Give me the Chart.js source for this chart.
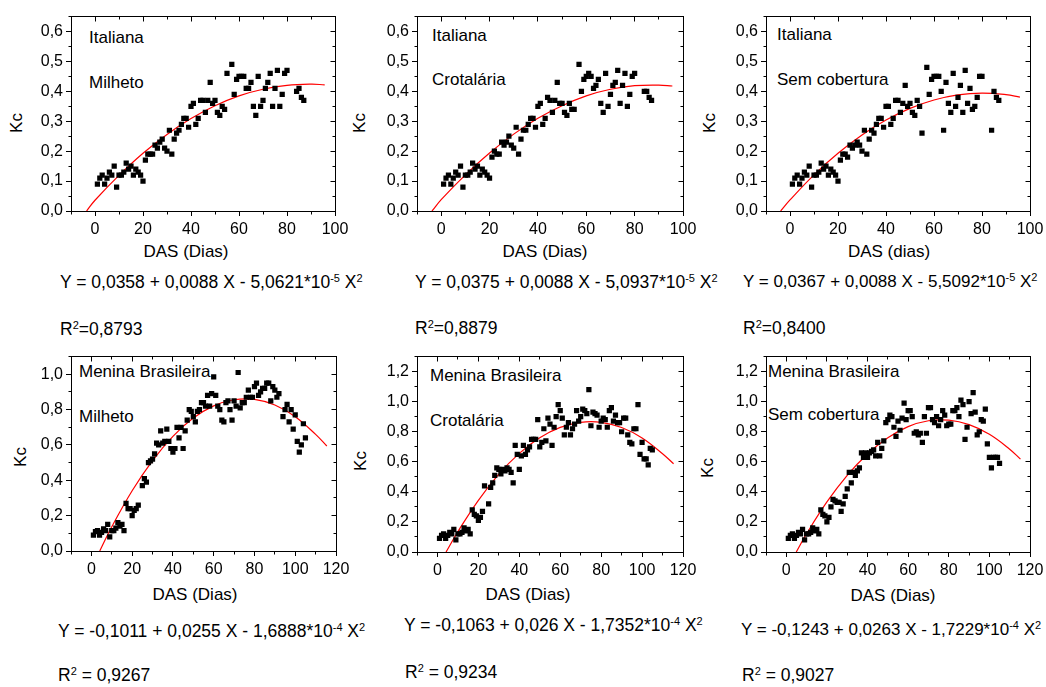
<!DOCTYPE html>
<html>
<head>
<meta charset="utf-8">
<script src="https://cdn.jsdelivr.net/npm/chart.js@4.4.0/dist/chart.umd.min.js"></script>
<style>
body { margin: 0; background: #fff; }
#fig { position: relative; width: 1046px; height: 687px; overflow: hidden; font-family: Arial, "Liberation Sans", sans-serif; color: #000; }
#fig canvas { position: absolute; }
.t { position: absolute; font-size: 17px; line-height: 20px; white-space: nowrap; }
.eq { font-size: 17.5px; }
.eq.n { font-size: 17px; }
.c { transform: translate(-50%, -50%); }
.r { transform: translate(-50%, -50%) rotate(-90deg); }
sup { font-size: 11px; vertical-align: 6px; line-height: 0; }
</style>
</head>
<body>
<div id="fig">
  <!-- top row: Italiana -->
  <div class="t r" style="left:17px;top:123px">Kc</div>
  <div class="t r" style="left:360px;top:123px">Kc</div>
  <div class="t r" style="left:710px;top:123px">Kc</div>
  <div class="t c" style="left:186px;top:252px">DAS (Dias)</div>
  <div class="t c" style="left:545px;top:252px">DAS (Dias)</div>
  <div class="t c" style="left:889px;top:252px">DAS (dias)</div>
  <div class="t" style="left:89px;top:28px">Italiana</div>
  <div class="t" style="left:89px;top:73px">Milheto</div>
  <div class="t" style="left:432px;top:26px">Italiana</div>
  <div class="t" style="left:432px;top:70px">Crotalária</div>
  <div class="t" style="left:777px;top:25px">Italiana</div>
  <div class="t" style="left:777px;top:70px">Sem cobertura</div>
  <div class="t eq" style="left:60px;top:272px">Y = 0,0358 + 0,0088 X - 5,0621*10<sup>-5</sup> X<sup>2</sup></div>
  <div class="t eq" style="left:415px;top:272px">Y = 0,0375 + 0,0088 X - 5,0937*10<sup>-5</sup> X<sup>2</sup></div>
  <div class="t eq n" style="left:743px;top:272px">Y = 0,0367 + 0,0088 X - 5,5092*10<sup>-5</sup> X<sup>2</sup></div>
  <div class="t eq" style="left:60px;top:319px">R<sup>2</sup>=0,8793</div>
  <div class="t eq" style="left:415px;top:318px">R<sup>2</sup>=0,8879</div>
  <div class="t eq" style="left:743px;top:318px">R<sup>2</sup>=0,8400</div>

  <!-- bottom row: Menina Brasileira -->
  <div class="t r" style="left:21px;top:457px">Kc</div>
  <div class="t r" style="left:361px;top:461px">Kc</div>
  <div class="t r" style="left:708px;top:468px">Kc</div>
  <div class="t c" style="left:195px;top:595px">DAS (Dias)</div>
  <div class="t c" style="left:528px;top:595px">DAS (Dias)</div>
  <div class="t c" style="left:893px;top:596px">DAS (Dias)</div>
  <div class="t" style="left:79px;top:362px">Menina Brasileira</div>
  <div class="t" style="left:79px;top:407px">Milheto</div>
  <div class="t" style="left:430px;top:366px">Menina Brasileira</div>
  <div class="t" style="left:430px;top:411px">Crotalária</div>
  <div class="t" style="left:768px;top:362px">Menina Brasileira</div>
  <div class="t" style="left:768px;top:405px">Sem cobertura</div>
  <div class="t eq" style="left:58px;top:621px">Y = -0,1011 + 0,0255 X - 1,6888*10<sup>-4</sup> X<sup>2</sup></div>
  <div class="t eq" style="left:404px;top:615px">Y = -0,1063 + 0,026 X - 1,7352*10<sup>-4</sup> X<sup>2</sup></div>
  <div class="t eq n" style="left:741px;top:620px">Y = -0,1243 + 0,0263 X - 1,7229*10<sup>-4</sup> X<sup>2</sup></div>
  <div class="t eq" style="left:58px;top:665px">R<sup>2</sup> = 0,9267</div>
  <div class="t eq" style="left:405px;top:662px">R<sup>2</sup> = 0,9234</div>
  <div class="t eq" style="left:742px;top:665px">R<sup>2</sup> = 0,9027</div>
</div>
<script>
// DAS (dias) das leituras - Italiana (os tres tratamentos usam os mesmos dias)
const daysItaliana = [1,2,3,4,5,6,7,8,9,10,11,12,13,14,15,16,17,18,19,20,21,22,23,24,25,26,27,28,29,30,
  31,32,33,34,35,36,37,38,39,40,41,42,43,44,45,46,47,48,49,50,51,52,53,54,55,
  57,58,59,60,61,62,63,64,65,66,67,68,69,70,71,72,73,74,75,76,77,78,79,80,84,85,86,87];

// Kc observado
const kcItalianaMilheto = [.09,.11,.12,.09,.11,.13,.12,.15,.08,.12, .12,.13,.16,.14,.15,.12,.14,.13,.12,.10,
  .17,.19,.19,.19,.22,.21,.23,.24,.21,.20, .27,.19,.24,.26,.27,.29,.31,.31,.28,.35,
  .36,.29,.31,.37,.37,.33,.37,.43,.36,.37, .33,.32,.35,.34,.46,
  .49,.39,.44,.45,.45,.45,.41,.41,.43,.35, .32,.45,.35,.37,.41,.43,.46,.35,.41,.47, .35,.39,.46,.47, .40,.41,.38,.37];
const kcItalianaCrotalaria = [.09,.11,.12,.09,.11,.13,.12,.15,.08,.12, .12,.13,.16,.14,.15,.12,.14,.13,.12,.11,
  .18,.20,.19,.19,.23,.22,.23,.25,.22,.21, .28,.19,.24,.27,.27,.29,.31,.31,.28,.35,
  .36,.29,.31,.38,.37,.33,.37,.43,.36,.36, .33,.32,.36,.34,.34,
  .49,.40,.44,.45,.46,.45,.41,.42,.44,.36, .33,.46,.35,.39,.42,.43,.47,.36,.42,.46, .35,.39,.45,.46, .40,.40,.38,.37];
const kcItalianaSem = [.09,.11,.12,.09,.11,.13,.12,.15,.08,.12, .12,.13,.16,.14,.15,.12,.14,.13,.12,.10,
  .17,.19,.19,.18,.22,.21,.22,.23,.22,.20, .27,.19,.24,.27,.26,.29,.31,.31,.28,.35,
  .35,.29,.31,.37,.37,.33,.36,.42,.35,.36, .33,.32,.37,.35,.26,
  .48,.39,.44,.45,.45,.45,.40,.27,.43,.36, .33,.46,.35,.38,.42,.33,.47,.36,.41,.34, .35,.38,.45,.45, .27,.40,.38,.37];

const daysMeninaMilheto = [1,2,3,4,5,6,7,8,9,10,11,12,13,14,15,16,17,18,19,20,21,22,23,
  25,26,27,28,29,30,31,32,33,34,35,36,37,38,39,40,41,42,43,44,45,46,47,48,49,50,51,52,53,54,
  55,56,57,58,59,60,61,62,63,64,65,66,67,68,69,70,71,72,73,74,75,76,77,78,79,80,81,82,83,84,
  85,86,87,88,89,90,91,92,94,95,96,97,98,99,100,101,102,103,104,105];
const kcMeninaMilheto = [.09,.11,.115,.09,.105,.125,.115,.15,.08,.115, .115,.13,.16,.14,.15,.115,.27,.24,.24,.20,
  .23,.24,.26,
  .37,.41,.39,.50,.51,.52,.55,.61,.60,.68, .61,.62,.69,.62,.58,.56,.58,.70,.64,.70,
  .58,.68,.74,.80,.79,.76,.73,.79,.80,.84, .84,.82,.88,.82,.89,.985,.88,.82,.80,.74,
  .73,.84,.85,.80,.74,.85,.82,1.01,.81,.84, .84,.87,.91,.87,.87,.93,.95,.88,.90,.92,
  .92,.95,.95,.85,.93,.91,.87,.89, .76,.80,.83,.73,.80,.69,.77,.62,.56,.60,.72,.64];

const daysMeninaCrotalaria = [1,2,3,4,5,6,7,8,9,10,11,12,13,14,15,16,17,18,19,20,21,22,23,
  25,26,27,28,29,30,31,32,33,34,35,36,37,38,39,40,41,42,43,44,45,46,47,48,49,50,51,52,53,54,
  55,56,57,58,59,60,61,62,63,64,65,66,67,68,69,70,71,72,73,74,75,76,77,78,79,80,81,82,83,84,
  85,86,87,88,89,90,91,92,93,94,95,96,97,98,99,100,101,102,103,104,105];
const kcMeninaCrotalaria = [.09,.11,.12,.09,.11,.13,.12,.15,.08,.12, .12,.13,.16,.14,.15,.12,.28,.25,.24,.21,
  .23,.27,.44,
  .32,.43,.46,.51,.56,.55,.52,.55,.54,.56, .55,.53,.46,.71,.65,.55,.64,.71,.65,.68,
  .70,.75,.75,.75,.88,.70,.73,.82,.74,.89, .85,.71,.83,.90,.98,.94,.89,.78,.83,.86,
  .78,.82,.85,.94,.87,.90,.95,.94,.92,1.08, .84,.93,.92,.91,.83,.87,.89,.88,.83,.94,
  .96,.87,.91,.86,.86,.80,.89,.89,.78,.73, .72,.82,.82,.98,.65,.73,.62,.62,.58,.69,.68];

const daysMeninaSem = [1,2,3,4,5,6,7,8,9,10,11,12,13,14,15,16,17,18,19,20,21,22,23,24,25,26,27,28,29,30,
  31,32,33,34,35,36,37,38,39,40,41,42,43,44,45,46,47,48,49,50,51,52,53,54,55,56,57,58,59,60,
  61,62,63,64,65,66,67,68,69,70,71,72,73,74,75,76,77,78,79,80,81,82,83,84,85,86,87,88,89,90,
  91,92,93,94,95,96,97,98,99,100,101,102,103,104,105];
const kcMeninaSem = [.09,.11,.12,.09,.11,.13,.12,.15,.08,.12, .12,.13,.16,.14,.15,.12,.28,.25,.24,.20,
  .23,.30,.35,.34,.33,.33,.27,.32,.37,.42, .53,.46,.53,.51,.54,.56,.66,.63,.66,.63,
  .66,.67,.68,.64,.73,.64,.69,.74,.86,.88, .91,.90,.83,.77,.87,.81,.89,.99,.88,.94,
  .94,.90,.79,.80,.78,.79,.73,.90,.79,.96, .96,.88,.86,.90,.84,.88,.94,.91,.84,.85,
  .85,.94,.94,.96,.90,1.01,.98,.75,.83,1.00, .92,1.06,.93,.78,.80,.88,.87,.95,.72,.63,
  .56,.63,.63,.63,.59];

// curvas ajustadas
const fitX1 = [-3.5, 0, 10, 20, 30, 40, 50, 60, 70, 80, 90, 95.7];
const fitY1 = [0, 0.036, 0.119, 0.193, 0.256, 0.309, 0.352, 0.385, 0.407, 0.420, 0.424, 0.422];
const fitX2 = [-3.8, 0, 10, 20, 30, 40, 50, 60, 70, 80, 90, 95.6];
const fitY2 = [0, 0.038, 0.121, 0.194, 0.257, 0.310, 0.352, 0.385, 0.407, 0.419, 0.421, 0.418];
const fitX3 = [-3.9, 0, 10, 20, 30, 40, 50, 60, 70, 80, 90, 95.8];
const fitY3 = [0, 0.037, 0.121, 0.193, 0.254, 0.304, 0.343, 0.371, 0.388, 0.394, 0.389, 0.381];
const fitX4 = [4.1, 10, 20, 30, 40, 50, 60, 70, 80, 90, 100, 110, 115.5];
const fitY4 = [0, 0.137, 0.341, 0.512, 0.649, 0.752, 0.821, 0.856, 0.858, 0.826, 0.760, 0.660, 0.594];
const fitX5 = [4.2, 10, 20, 30, 40, 50, 60, 70, 80, 90, 100, 110, 115.4];
const fitY5 = [0, 0.136, 0.344, 0.518, 0.656, 0.760, 0.829, 0.863, 0.863, 0.828, 0.759, 0.654, 0.587];
const fitX6 = [4.9, 10, 20, 30, 40, 50, 60, 70, 80, 90, 100, 110, 115.3];
const fitY6 = [0, 0.122, 0.333, 0.510, 0.652, 0.760, 0.834, 0.873, 0.877, 0.847, 0.783, 0.684, 0.618];

// ticks com rotulo
const xTicksItaliana = [0, 20, 40, 60, 80, 100];
const xTicksMenina = [0, 20, 40, 60, 80, 100, 120];
const yTicksItaliana = [0, 0.1, 0.2, 0.3, 0.4, 0.5, 0.6];
const yTicksMenina11 = [0, 0.2, 0.4, 0.6, 0.8, 1.0];
const yTicksMenina13 = [0, 0.2, 0.4, 0.6, 0.8, 1.0, 1.2];

const PAD_L = 50, PAD_T = 10, PAD_R = 22, PAD_B = 30;

Chart.defaults.font.family = 'Arial, "Liberation Sans", sans-serif';
Chart.defaults.font.size = 16;
Chart.defaults.color = '#000';

const near = (a, b) => Math.abs(a - b) < 1e-6;
const isStep = (v, step) => near(v / step, Math.round(v / step));

// moldura com ticks espelhados (topo/direita) e ticks menores
const framePlugin = {
  id: 'frame',
  afterDraw(chart, args, o) {
    const { ctx, chartArea: a, scales: { x, y } } = chart;
    const al = p => Math.round(p - 0.5) + 0.5;
    const L = al(a.left), R = al(a.right), T = al(a.top), B = al(a.bottom);
    ctx.save();
    ctx.strokeStyle = '#000';
    ctx.lineWidth = 1;
    ctx.strokeRect(L, T, R - L, B - T);
    ctx.beginPath();
    const nx = Math.round((x.max - x.min) / o.xMinor);
    for (let i = 0; i <= nx; i++) {
      const v = x.min + i * o.xMinor;
      const p = al(x.getPixelForValue(v));
      const major = v >= 0 && isStep(v, o.xStep);
      ctx.moveTo(p, T); ctx.lineTo(p, T + (major ? 5 : 3));
      if (!major) { ctx.moveTo(p, B); ctx.lineTo(p, B + 3); }
    }
    const ny = Math.round(y.max / o.yMinor);
    for (let i = 0; i <= ny; i++) {
      const v = i * o.yMinor;
      const p = al(y.getPixelForValue(v));
      const major = isStep(v, o.yStep);
      ctx.moveTo(R, p); ctx.lineTo(R - (major ? 5 : 3), p);
      if (!major) { ctx.moveTo(L, p); ctx.lineTo(L - 3, p); }
    }
    ctx.stroke();
    ctx.restore();
  }
};

const panels = [
  { box: [71, 14, 335, 211], days: daysItaliana, kc: kcItalianaMilheto, fx: fitX1, fy: fitY1, xMax: 100, xTicks: xTicksItaliana, yMax: 0.65, yTicks: yTicksItaliana, yStep: 0.1, yMinor: 0.05 },
  { box: [417, 14, 683, 211], days: daysItaliana, kc: kcItalianaCrotalaria, fx: fitX2, fy: fitY2, xMax: 100, xTicks: xTicksItaliana, yMax: 0.65, yTicks: yTicksItaliana, yStep: 0.1, yMinor: 0.05 },
  { box: [766, 14, 1030, 211], days: daysItaliana, kc: kcItalianaSem, fx: fitX3, fy: fitY3, xMax: 100, xTicks: xTicksItaliana, yMax: 0.65, yTicks: yTicksItaliana, yStep: 0.1, yMinor: 0.05 },
  { box: [71, 354, 336, 551], days: daysMeninaMilheto, kc: kcMeninaMilheto, fx: fitX4, fy: fitY4, xMax: 120, xTicks: xTicksMenina, yMax: 1.1, yTicks: yTicksMenina11, yStep: 0.2, yMinor: 0.1 },
  { box: [417, 354, 683, 552], days: daysMeninaCrotalaria, kc: kcMeninaCrotalaria, fx: fitX5, fy: fitY5, xMax: 120, xTicks: xTicksMenina, yMax: 1.3, yTicks: yTicksMenina13, yStep: 0.2, yMinor: 0.1 },
  { box: [766, 354, 1030, 552], days: daysMeninaSem, kc: kcMeninaSem, fx: fitX6, fy: fitY6, xMax: 120, xTicks: xTicksMenina, yMax: 1.3, yTicks: yTicksMenina13, yStep: 0.2, yMinor: 0.1 }
];

function makePanel(p) {
  const [l, t, r, b] = p.box;
  const cv = document.createElement('canvas');
  cv.width = r - l + PAD_L + PAD_R;
  cv.height = b - t + PAD_T + PAD_B;
  cv.style.left = (l - PAD_L) + 'px';
  cv.style.top = (t - PAD_T) + 'px';
  document.getElementById('fig').appendChild(cv);

  new Chart(cv, {
    type: 'scatter',
    data: {
      datasets: [
        {
          data: p.days.map((d, i) => ({ x: d, y: p.kc[i] })),
          pointStyle: 'rect',
          pointRadius: 3.7,
          backgroundColor: '#000',
          borderWidth: 0
        },
        {
          data: p.fx.map((v, i) => ({ x: v, y: p.fy[i] })),
          showLine: true,
          borderColor: '#ff0000',
          borderWidth: 1.2,
          pointRadius: 0,
          tension: 0.4,
          fill: false
        }
      ]
    },
    options: {
      responsive: false,
      animation: false,
      events: [],
      layout: { padding: { left: 0, top: PAD_T, right: PAD_R, bottom: 0 } },
      plugins: {
        legend: { display: false },
        tooltip: { enabled: false },
        frame: { xMinor: 10, xStep: 20, yMinor: p.yMinor, yStep: p.yStep }
      },
      scales: {
        x: {
          type: 'linear',
          min: -10,
          max: p.xMax,
          afterBuildTicks: s => { s.ticks = p.xTicks.map(v => ({ value: v })); },
          afterFit: s => { s.height = PAD_B; },
          border: { display: true, color: '#000', width: 1 },
          grid: { drawOnChartArea: false, drawTicks: true, tickLength: 5, color: '#000' },
          ticks: {
            autoSkip: false,
            maxRotation: 0,
            padding: 4,
            callback: v => String(v)
          }
        },
        y: {
          min: 0,
          max: p.yMax,
          afterBuildTicks: s => { s.ticks = p.yTicks.map(v => ({ value: v })); },
          afterFit: s => { s.width = PAD_L; },
          border: { display: true, color: '#000', width: 1 },
          grid: { drawOnChartArea: false, drawTicks: true, tickLength: 5, color: '#000' },
          ticks: {
            autoSkip: false,
            padding: 3,
            callback: v => v.toFixed(1).replace('.', ',')
          }
        }
      }
    },
    plugins: [framePlugin]
  });
}

panels.forEach(makePanel);
</script>
</body>
</html>
